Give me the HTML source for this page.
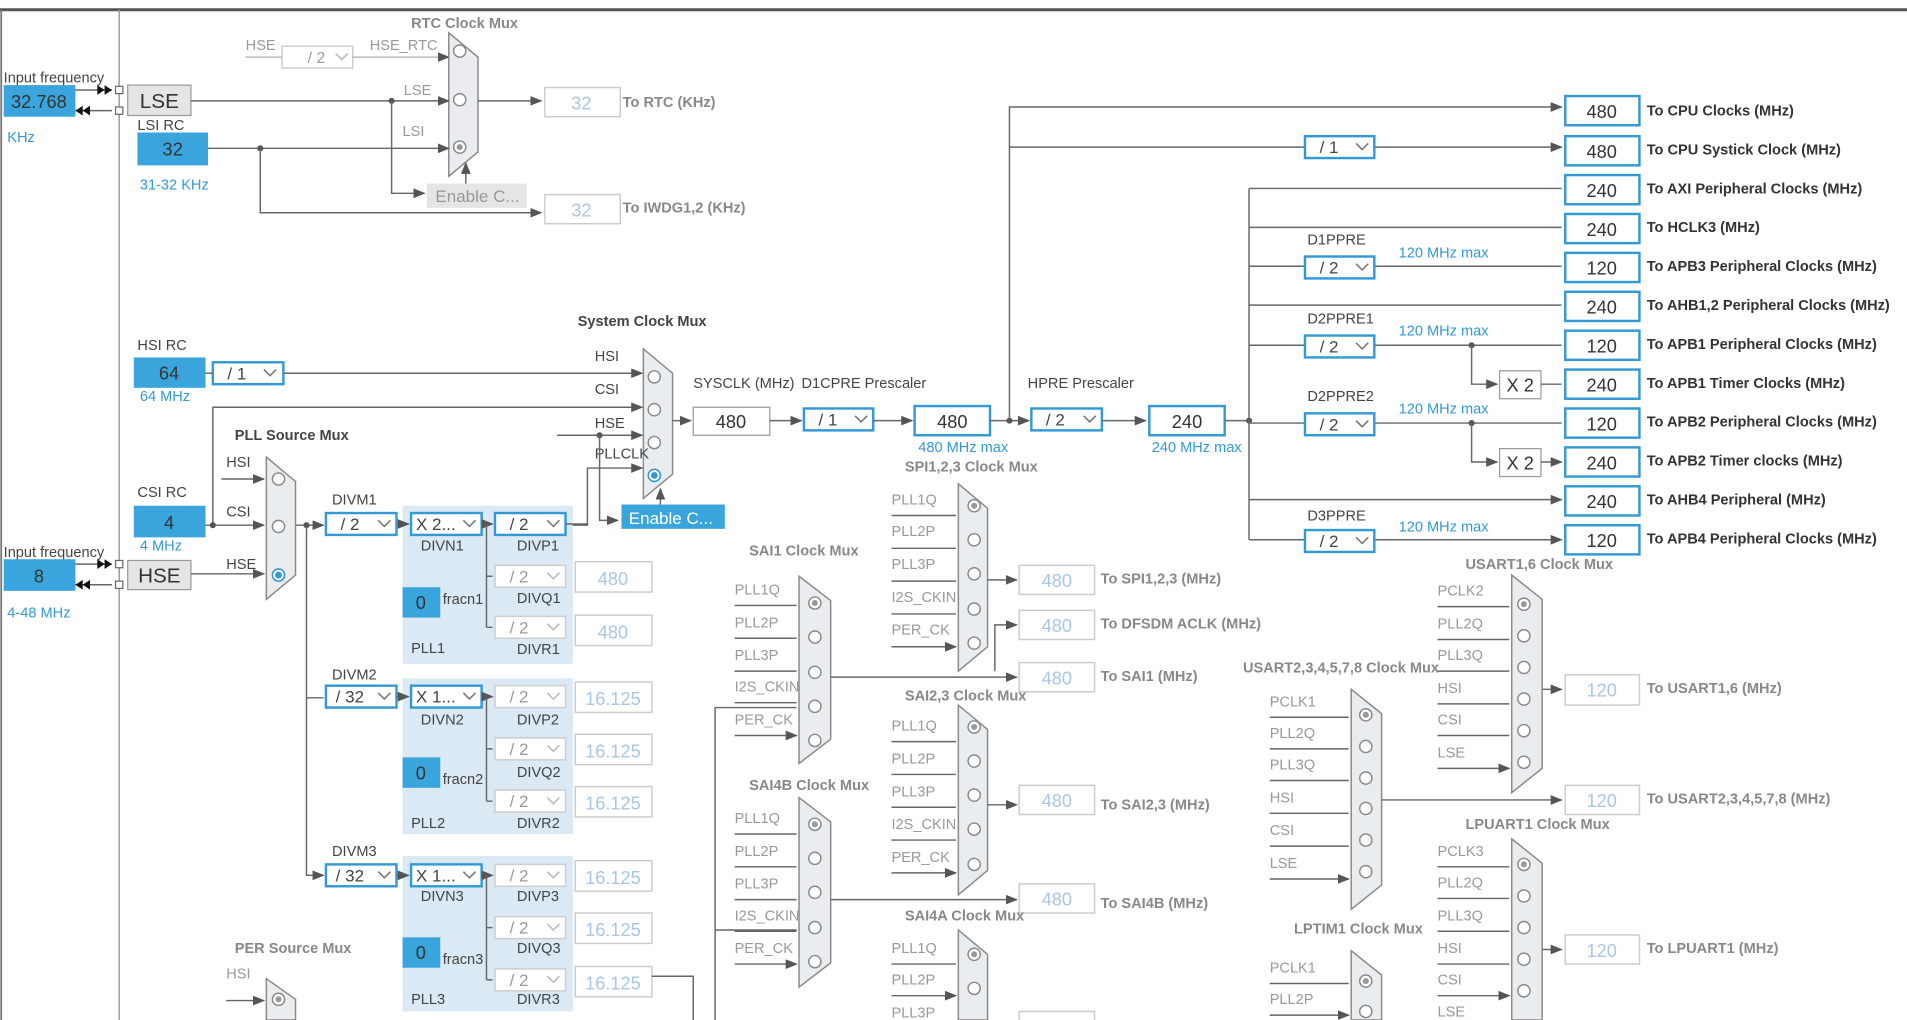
<!DOCTYPE html>
<html><head><meta charset="utf-8">
<style>
html,body{margin:0;padding:0;background:#fff;overflow:hidden}
svg{display:block}
text{font-family:"Liberation Sans",Arial,sans-serif}
.l{font-size:12px;fill:#444}
.g{font-size:12px;fill:#999}
.b{font-size:12px;fill:#3399d6}
.t{font-size:12px;fill:#333;font-weight:bold}
.tg{font-size:12px;fill:#888;font-weight:bold}
.v{font-size:15px;fill:#333;text-anchor:middle}
.vd{font-size:15px;fill:#a9c6e4;text-anchor:middle}
.ln{stroke:#666;stroke-width:1.2;fill:none}
.ar{stroke:#666;stroke-width:1.2;fill:none;marker-end:url(#a)}
.mux{fill:#e9edf0;stroke:#888;stroke-width:1.2}
.c{fill:#fff;stroke:#888;stroke-width:1.2}
.ob{fill:#fff;stroke:#3399d6;stroke-width:2}
.od{fill:#fff;stroke:#ccc;stroke-width:1.2}
.bl{fill:#3aa5dc}
.pll{fill:#dbe9f5}
.dd{fill:#fff;stroke:#3399d6;stroke-width:2}
.ddd{fill:#fff;stroke:#ccc;stroke-width:1.2}
</style></head><body>
<svg width="1907" height="1020" viewBox="0 0 1568 839" preserveAspectRatio="none" xmlns="http://www.w3.org/2000/svg">
<defs>
<marker id="a" markerWidth="10" markerHeight="8" refX="9" refY="4" orient="auto" markerUnits="userSpaceOnUse"><path d="M0,0 L10,4 L0,8z" fill="#555"/></marker>
<g id="chev"><polyline points="0,0 5,5 10,0" fill="none" stroke="#777" stroke-width="1.3"/></g>
<g id="chevg"><polyline points="0,0 5,5 10,0" fill="none" stroke="#bbb" stroke-width="1.3"/></g>
</defs>
<!-- borders -->
<line x1="0" y1="8" x2="1568" y2="8" stroke="#555" stroke-width="2.5"/>
<line x1="1" y1="8" x2="1" y2="839" stroke="#777" stroke-width="1.5"/>
<line x1="98" y1="8" x2="98" y2="839" stroke="#999" stroke-width="1.2"/>

<!-- LSE input -->
<text x="3" y="68" class="l">Input frequency</text>
<rect x="3" y="70" width="59" height="26" class="bl"/><text x="32" y="89" class="v">32.768</text>
<text x="6" y="117" class="b">KHz</text>
<path d="M62,74 H92 M62,91 H92" class="ln"/>
<path d="M80,70 l6,4 -6,4z M86,70 l6,4 -6,4z M68,87 l-6,4 6,4z M74,87 l-6,4 6,4z" fill="#111"/>
<rect x="95" y="71" width="6" height="6" fill="#fff" stroke="#666"/><rect x="95" y="88" width="6" height="6" fill="#fff" stroke="#666"/>
<rect x="105" y="70" width="52" height="25" fill="#e4e5e6" stroke="#999"/><text x="131" y="89" class="v" style="font-size:17px">LSE</text>
<text x="113" y="107" class="l">LSI RC</text>
<rect x="113" y="109" width="58" height="27" class="bl"/><text x="142" y="128" class="v">32</text>
<text x="115" y="156" class="b">31-32 KHz</text>
<!-- RTC -->
<text x="338" y="23" class="tg">RTC Clock Mux</text>
<text x="202" y="41" class="g">HSE</text>
<rect x="232" y="38" width="58" height="18" class="ddd"/><text x="253" y="52" class="g" style="font-size:13px">/ 2</text><use href="#chevg" x="276" y="44"/>
<path d="M202,47 H232" class="ln" style="stroke:#bbb"/>
<path d="M290,47 H369" class="ar" style="stroke:#bbb"/>
<text x="304" y="41" class="g">HSE_RTC</text>
<polygon points="369,27 393,47 393,125 369,145" class="mux"/>
<circle cx="378" cy="42" r="5" class="c"/><circle cx="378" cy="82" r="5" class="c"/><circle cx="378" cy="121" r="5" class="c"/><circle cx="378" cy="121" r="2.5" fill="#999"/>
<path d="M157,83 H369" class="ar"/><text x="332" y="78" class="g">LSE</text>
<path d="M171,122 H369" class="ar"/><text x="331" y="112" class="g">LSI</text>
<circle cx="322" cy="83" r="2.5" fill="#555"/><circle cx="214" cy="122" r="2.5" fill="#555"/>
<path d="M322,83 V159 H349" class="ar"/>
<rect x="351" y="151" width="82" height="20" fill="#e4e5e6"/><text x="358" y="166" style="font-size:14px;fill:#999">Enable C...</text>
<path d="M383,151 V134" class="ar"/>
<path d="M393,83 H445" class="ar"/>
<rect x="448" y="72" width="62" height="24" class="od"/><text x="478" y="90" class="vd">32</text><text x="512" y="88" class="tg">To RTC (KHz)</text>
<path d="M214,122 V175 H445" class="ar"/>
<rect x="448" y="160" width="62" height="24" class="od"/><text x="478" y="178" class="vd">32</text><text x="512" y="175" class="tg">To IWDG1,2 (KHz)</text>

<!-- HSI / system mux -->
<text x="113" y="288" class="l">HSI RC</text>
<rect x="110" y="294" width="59" height="25" class="bl"/><text x="139" y="312" class="v">64</text>
<text x="115" y="330" class="b">64 MHz</text>
<rect x="175" y="298" width="58" height="18" class="dd"/><text x="187" y="312" class="l" style="font-size:14px">/ 1</text><use href="#chev" x="217" y="304"/>
<path d="M169,307 H175" class="ln"/>
<path d="M233,307 H528" class="ar"/>
<text x="475" y="268" class="t" style="fill:#444">System Clock Mux</text>
<polygon points="529,287 553,307 553,390 529,410" class="mux"/>
<text x="489" y="297" class="l">HSI</text><text x="489" y="324" class="l">CSI</text><text x="489" y="352" class="l">HSE</text><text x="489" y="377" class="l">PLLCLK</text>
<circle cx="538" cy="310" r="5" class="c"/><circle cx="538" cy="337" r="5" class="c"/><circle cx="538" cy="364" r="5" class="c"/>
<circle cx="538" cy="391" r="5" fill="#fff" stroke="#3399d6" stroke-width="1.3"/><circle cx="538" cy="391" r="2.8" fill="#3399d6"/>
<path d="M175,432 V335 H528" class="ar"/>
<path d="M458,358 H528" class="ar"/><circle cx="493" cy="358" r="2.5" fill="#555"/>
<path d="M493,358 V428 H508" class="ar"/>
<path d="M470,432 H483 V385 H528" class="ar"/>
<rect x="511" y="415" width="85" height="20" fill="#3aa5dc"/><text x="517" y="431" style="font-size:14px;fill:#fff">Enable C...</text>
<path d="M543,415 V402" class="ar"/>
<path d="M553,346 H568" class="ar"/>
<text x="570" y="319" class="l">SYSCLK (MHz)</text>
<rect x="570" y="335" width="63" height="23" fill="#fff" stroke="#999"/><text x="601" y="352" class="v">480</text>
<path d="M633,346 H659" class="ar"/>
<text x="659" y="319" class="l">D1CPRE Prescaler</text>
<rect x="661" y="336" width="57" height="18" class="dd"/><text x="673" y="350" class="l" style="font-size:14px">/ 1</text><use href="#chev" x="703" y="342"/>
<path d="M718,346 H750" class="ar"/>
<rect x="752" y="334" width="62" height="24" class="ob"/><text x="783" y="352" class="v">480</text>
<text x="755" y="372" class="b">480 MHz max</text>
<path d="M814,346 H846" class="ar"/><circle cx="830" cy="346" r="2.5" fill="#555"/>
<text x="845" y="319" class="l">HPRE Prescaler</text>
<rect x="848" y="336" width="58" height="18" class="dd"/><text x="860" y="350" class="l" style="font-size:14px">/ 2</text><use href="#chev" x="891" y="342"/>
<path d="M906,346 H942" class="ar"/>
<rect x="945" y="334" width="62" height="24" class="ob"/><text x="976" y="352" class="v">240</text>
<text x="947" y="372" class="b">240 MHz max</text>
<path d="M1007,346 H1027" class="ln"/><circle cx="1027" cy="346" r="2.5" fill="#555"/>

<!-- right side -->
<path d="M830,346 V88 H1284" class="ar"/>
<path d="M830,121 H1073" class="ln"/><path d="M1130,121 H1284" class="ar"/>
<rect x="1073" y="112" width="57" height="18" class="dd"/><text x="1085" y="126" class="l" style="font-size:14px">/ 1</text><use href="#chev" x="1115" y="118"/>
<path d="M1027,155 V444" class="ln"/>
<path d="M1027,155 H1284 M1027,187 H1284 M1027,251 H1284 M1027,411 H1284" class="ar"/>
<path d="M1027,219 H1073 M1027,284 H1073 M1027,348 H1073 M1027,444 H1073" class="ln"/>
<path d="M1130,219 H1284 M1130,284 H1284 M1130,348 H1284 M1130,444 H1284" class="ar"/>
<rect x="1073" y="211" width="57" height="18" class="dd"/><text x="1085" y="225" class="l" style="font-size:14px">/ 2</text><use href="#chev" x="1115" y="217"/>
<rect x="1073" y="276" width="57" height="18" class="dd"/><text x="1085" y="290" class="l" style="font-size:14px">/ 2</text><use href="#chev" x="1115" y="282"/>
<rect x="1073" y="340" width="57" height="18" class="dd"/><text x="1085" y="354" class="l" style="font-size:14px">/ 2</text><use href="#chev" x="1115" y="346"/>
<rect x="1073" y="436" width="57" height="18" class="dd"/><text x="1085" y="450" class="l" style="font-size:14px">/ 2</text><use href="#chev" x="1115" y="442"/>
<text x="1075" y="201" class="l">D1PPRE</text><text x="1075" y="266" class="l">D2PPRE1</text><text x="1075" y="330" class="l">D2PPRE2</text><text x="1075" y="428" class="l">D3PPRE</text>
<text x="1150" y="212" class="b">120 MHz max</text><text x="1150" y="276" class="b">120 MHz max</text><text x="1150" y="340" class="b">120 MHz max</text><text x="1150" y="437" class="b">120 MHz max</text>
<circle cx="1210" cy="284" r="2.5" fill="#555"/><path d="M1210,284 V316 H1231" class="ar"/>
<circle cx="1210" cy="348" r="2.5" fill="#555"/><path d="M1210,348 V380 H1231" class="ar"/>
<rect x="1233" y="305" width="34" height="23" fill="#fff" stroke="#999"/><text x="1250" y="322" class="v">X 2</text>
<rect x="1233" y="369" width="34" height="23" fill="#fff" stroke="#999"/><text x="1250" y="386" class="v">X 2</text>
<path d="M1267,316 H1284 M1267,380 H1284" class="ar"/>
<g>
<rect x="1287" y="79" width="61" height="24" class="ob"/><text x="1317" y="97" class="v">480</text><text x="1354" y="95" class="t">To CPU Clocks (MHz)</text>
<rect x="1287" y="112" width="61" height="24" class="ob"/><text x="1317" y="130" class="v">480</text><text x="1354" y="127" class="t">To CPU Systick Clock (MHz)</text>
<rect x="1287" y="144" width="61" height="24" class="ob"/><text x="1317" y="162" class="v">240</text><text x="1354" y="159" class="t">To AXI Peripheral Clocks (MHz)</text>
<rect x="1287" y="176" width="61" height="24" class="ob"/><text x="1317" y="194" class="v">240</text><text x="1354" y="191" class="t">To HCLK3 (MHz)</text>
<rect x="1287" y="208" width="61" height="24" class="ob"/><text x="1317" y="226" class="v">120</text><text x="1354" y="223" class="t">To APB3 Peripheral Clocks (MHz)</text>
<rect x="1287" y="240" width="61" height="24" class="ob"/><text x="1317" y="258" class="v">240</text><text x="1354" y="255" class="t">To AHB1,2 Peripheral Clocks (MHz)</text>
<rect x="1287" y="272" width="61" height="24" class="ob"/><text x="1317" y="290" class="v">120</text><text x="1354" y="287" class="t">To APB1 Peripheral Clocks (MHz)</text>
<rect x="1287" y="304" width="61" height="24" class="ob"/><text x="1317" y="322" class="v">240</text><text x="1354" y="319" class="t">To APB1 Timer Clocks (MHz)</text>
<rect x="1287" y="336" width="61" height="24" class="ob"/><text x="1317" y="354" class="v">120</text><text x="1354" y="351" class="t">To APB2 Peripheral Clocks (MHz)</text>
<rect x="1287" y="368" width="61" height="24" class="ob"/><text x="1317" y="386" class="v">240</text><text x="1354" y="383" class="t">To APB2 Timer clocks (MHz)</text>
<rect x="1287" y="400" width="61" height="24" class="ob"/><text x="1317" y="418" class="v">240</text><text x="1354" y="415" class="t">To AHB4 Peripheral (MHz)</text>
<rect x="1287" y="432" width="61" height="24" class="ob"/><text x="1317" y="450" class="v">120</text><text x="1354" y="447" class="t">To APB4 Peripheral Clocks (MHz)</text>
</g>

<!-- CSI, HSE -->
<text x="113" y="409" class="l">CSI RC</text>
<rect x="110" y="416" width="59" height="26" class="bl"/><text x="139" y="435" class="v">4</text>
<text x="115" y="453" class="b">4 MHz</text>
<text x="3" y="458" class="l">Input frequency</text>
<rect x="3" y="460" width="59" height="26" class="bl"/><text x="32" y="479" class="v">8</text>
<text x="6" y="508" class="b">4-48 MHz</text>
<path d="M62,464 H92 M62,481 H92" class="ln"/>
<path d="M80,460 l6,4 -6,4z M86,460 l6,4 -6,4z M68,477 l-6,4 6,4z M74,477 l-6,4 6,4z" fill="#111"/>
<rect x="95" y="461" width="6" height="6" fill="#fff" stroke="#666"/><rect x="95" y="478" width="6" height="6" fill="#fff" stroke="#666"/>
<rect x="105" y="461" width="52" height="24" fill="#e4e5e6" stroke="#999"/><text x="131" y="479" class="v" style="font-size:17px">HSE</text>

<!-- PLL source mux -->
<text x="193" y="362" class="t" style="fill:#444">PLL Source Mux</text>
<polygon points="219,376 243,396 243,473 219,493" class="mux"/>
<text x="186" y="384" class="l">HSI</text><text x="186" y="425" class="l">CSI</text><text x="186" y="468" class="l">HSE</text>
<circle cx="229" cy="394" r="5" class="c"/><circle cx="229" cy="433" r="5" class="c"/>
<circle cx="229" cy="473" r="5" fill="#fff" stroke="#3399d6" stroke-width="1.3"/><circle cx="229" cy="473" r="2.8" fill="#3399d6"/>
<path d="M182,394 H217" class="ar"/><path d="M169,432 H217" class="ar"/><circle cx="175" cy="432" r="2.5" fill="#555"/>
<path d="M157,472 H217" class="ar"/>
<path d="M243,432 H266" class="ar"/><circle cx="252" cy="432" r="2.5" fill="#555"/>
<path d="M252,432 V574 H266 M252,574 V720 H266" class="ar"/>

<!-- PLL1 -->
<text x="273" y="415" class="l">DIVM1</text>
<rect x="331" y="416" width="140" height="130" class="pll"/>
<rect x="268" y="422" width="58" height="18" class="dd"/><text x="280" y="436" class="l" style="font-size:14px">/ 2</text><use href="#chev" x="311" y="428"/>
<path d="M326,431 H336" class="ar"/>
<rect x="338" y="422" width="58" height="18" class="dd"/><text x="342" y="436" class="l" style="font-size:14px">X 2...</text><use href="#chev" x="381" y="428"/>
<path d="M396,431 H405" class="ar"/>
<rect x="407" y="422" width="58" height="18" class="dd"/><text x="419" y="436" class="l" style="font-size:14px">/ 2</text><use href="#chev" x="450" y="428"/>
<path d="M465,431 H483" class="ln"/>
<text x="346" y="453" class="l">DIVN1</text><text x="425" y="453" class="l">DIVP1</text>
<path d="M400,431 V516 M400,474 H405 M400,516 H405" class="ln"/>
<rect x="407" y="465" width="58" height="18" class="ddd"/><text x="419" y="479" class="g" style="font-size:14px">/ 2</text><use href="#chevg" x="450" y="471"/>
<rect x="473" y="462" width="63" height="25" class="od"/><text x="504" y="481" class="vd">480</text>
<text x="425" y="496" class="l">DIVQ1</text>
<rect x="331" y="483" width="31" height="25" class="bl"/><text x="346" y="501" class="v">0</text><text x="364" y="497" class="l">fracn1</text>
<rect x="407" y="507" width="58" height="18" class="ddd"/><text x="419" y="521" class="g" style="font-size:14px">/ 2</text><use href="#chevg" x="450" y="513"/>
<rect x="473" y="506" width="63" height="25" class="od"/><text x="504" y="525" class="vd">480</text>
<text x="425" y="538" class="l">DIVR1</text><text x="338" y="537" class="l">PLL1</text>

<!-- PLL2 -->
<text x="273" y="559" class="l">DIVM2</text>
<rect x="331" y="558" width="140" height="128" class="pll"/>
<rect x="268" y="564" width="58" height="18" class="dd"/><text x="276" y="578" class="l" style="font-size:14px">/ 32</text><use href="#chev" x="311" y="570"/>
<path d="M326,573 H336" class="ar"/>
<rect x="338" y="564" width="58" height="18" class="dd"/><text x="342" y="578" class="l" style="font-size:14px">X 1...</text><use href="#chev" x="381" y="570"/>
<path d="M396,573 H405" class="ar"/>
<path d="M400,573 V659 M400,616 H405 M400,659 H405" class="ln"/>
<rect x="407" y="564" width="58" height="18" class="ddd"/><text x="419" y="578" class="g" style="font-size:14px">/ 2</text><use href="#chevg" x="450" y="570"/>
<rect x="473" y="561" width="63" height="25" class="od"/><text x="504" y="580" class="vd">16.125</text>
<text x="346" y="596" class="l">DIVN2</text><text x="425" y="596" class="l">DIVP2</text>
<rect x="407" y="607" width="58" height="18" class="ddd"/><text x="419" y="621" class="g" style="font-size:14px">/ 2</text><use href="#chevg" x="450" y="613"/>
<rect x="473" y="604" width="63" height="25" class="od"/><text x="504" y="623" class="vd">16.125</text>
<text x="425" y="639" class="l">DIVQ2</text>
<rect x="331" y="623" width="31" height="25" class="bl"/><text x="346" y="641" class="v">0</text><text x="364" y="645" class="l">fracn2</text>
<rect x="407" y="650" width="58" height="18" class="ddd"/><text x="419" y="664" class="g" style="font-size:14px">/ 2</text><use href="#chevg" x="450" y="656"/>
<rect x="473" y="647" width="63" height="25" class="od"/><text x="504" y="666" class="vd">16.125</text>
<text x="425" y="681" class="l">DIVR2</text><text x="338" y="681" class="l">PLL2</text>

<!-- PLL3 -->
<text x="273" y="704" class="l">DIVM3</text>
<rect x="331" y="704" width="140" height="128" class="pll"/>
<rect x="268" y="711" width="58" height="18" class="dd"/><text x="276" y="725" class="l" style="font-size:14px">/ 32</text><use href="#chev" x="311" y="717"/>
<path d="M326,720 H336" class="ar"/>
<rect x="338" y="711" width="58" height="18" class="dd"/><text x="342" y="725" class="l" style="font-size:14px">X 1...</text><use href="#chev" x="381" y="717"/>
<path d="M396,720 H405" class="ar"/>
<path d="M400,720 V806 M400,763 H405 M400,806 H405" class="ln"/>
<rect x="407" y="711" width="58" height="18" class="ddd"/><text x="419" y="725" class="g" style="font-size:14px">/ 2</text><use href="#chevg" x="450" y="717"/>
<rect x="473" y="708" width="63" height="25" class="od"/><text x="504" y="727" class="vd">16.125</text>
<text x="346" y="741" class="l">DIVN3</text><text x="425" y="741" class="l">DIVP3</text>
<rect x="407" y="754" width="58" height="18" class="ddd"/><text x="419" y="768" class="g" style="font-size:14px">/ 2</text><use href="#chevg" x="450" y="760"/>
<rect x="473" y="751" width="63" height="25" class="od"/><text x="504" y="770" class="vd">16.125</text>
<text x="425" y="784" class="l">DIVQ3</text>
<rect x="331" y="771" width="31" height="25" class="bl"/><text x="346" y="789" class="v">0</text><text x="364" y="793" class="l">fracn3</text>
<rect x="407" y="797" width="58" height="18" class="ddd"/><text x="419" y="811" class="g" style="font-size:14px">/ 2</text><use href="#chevg" x="450" y="803"/>
<rect x="473" y="795" width="63" height="25" class="od"/><text x="504" y="814" class="vd">16.125</text>
<path d="M536,803 H570 V839" class="ln"/>
<text x="425" y="826" class="l">DIVR3</text><text x="338" y="826" class="l">PLL3</text>

<!-- PER source -->
<text x="193" y="784" class="tg">PER Source Mux</text>
<text x="186" y="805" class="g">HSI</text>
<path d="M186,823 H217" class="ar"/>
<polygon points="219,805 243,822 243,839 219,839" class="mux"/>
<circle cx="229" cy="822" r="5" class="c"/><circle cx="229" cy="822" r="2.5" fill="#999"/>

<!-- SPI mux -->
<text x="744" y="388" class="tg">SPI1,2,3 Clock Mux</text>
<polygon points="788,398 812,418 812,532 788,552" class="mux"/>
<g class="g"><text x="733" y="415">PLL1Q</text><text x="733" y="441">PLL2P</text><text x="733" y="468">PLL3P</text><text x="733" y="495">I2S_CKIN</text><text x="733" y="522">PER_CK</text></g>
<path d="M733,424 H786 M733,451 H786 M733,478 H786 M733,505 H786 M733,532 H786" class="ar"/>
<circle cx="801" cy="416" r="5" class="c"/><circle cx="801" cy="416" r="2.5" fill="#999"/><circle cx="801" cy="444" r="5" class="c"/><circle cx="801" cy="472" r="5" class="c"/><circle cx="801" cy="501" r="5" class="c"/><circle cx="801" cy="529" r="5" class="c"/>
<path d="M812,477 H836" class="ar"/>
<rect x="838" y="465" width="62" height="24" class="od"/><text x="869" y="483" class="vd">480</text><text x="905" y="480" class="tg">To SPI1,2,3 (MHz)</text>
<path d="M818,552 V514 H836" class="ar"/>
<rect x="838" y="502" width="62" height="24" class="od"/><text x="869" y="520" class="vd">480</text><text x="905" y="517" class="tg">To DFSDM ACLK (MHz)</text>
<rect x="838" y="545" width="62" height="24" class="od"/><text x="869" y="563" class="vd">480</text><text x="905" y="560" class="tg">To SAI1 (MHz)</text>

<!-- SAI1 -->
<text x="616" y="457" class="tg">SAI1 Clock Mux</text>
<polygon points="657,474 683,494 683,608 657,628" class="mux"/>
<g class="g"><text x="604" y="489">PLL1Q</text><text x="604" y="516">PLL2P</text><text x="604" y="543">PLL3P</text><text x="604" y="569">I2S_CKIN</text><text x="604" y="596">PER_CK</text></g>
<path d="M604,498 H655 M604,525 H655 M604,552 H655 M604,578 H655 M604,605 H655" class="ar"/>
<circle cx="670" cy="496" r="5" class="c"/><circle cx="670" cy="496" r="2.5" fill="#999"/><circle cx="670" cy="524" r="5" class="c"/><circle cx="670" cy="553" r="5" class="c"/><circle cx="670" cy="581" r="5" class="c"/><circle cx="670" cy="609" r="5" class="c"/>
<path d="M683,557 H836" class="ar"/>
<path d="M655,582 H588 V839" class="ln"/><path d="M588,765 H655" class="ln"/>

<!-- SAI2,3 -->
<text x="744" y="576" class="tg">SAI2,3 Clock Mux</text>
<polygon points="788,580 812,600 812,716 788,736" class="mux"/>
<g class="g"><text x="733" y="601">PLL1Q</text><text x="733" y="628">PLL2P</text><text x="733" y="655">PLL3P</text><text x="733" y="682">I2S_CKIN</text><text x="733" y="709">PER_CK</text></g>
<path d="M733,610 H786 M733,637 H786 M733,664 H786 M733,691 H786 M733,718 H786" class="ar"/>
<circle cx="801" cy="598" r="5" class="c"/><circle cx="801" cy="598" r="2.5" fill="#999"/><circle cx="801" cy="626" r="5" class="c"/><circle cx="801" cy="654" r="5" class="c"/><circle cx="801" cy="682" r="5" class="c"/><circle cx="801" cy="711" r="5" class="c"/>
<path d="M812,662 H836" class="ar"/>
<rect x="838" y="646" width="62" height="24" class="od"/><text x="869" y="664" class="vd">480</text><text x="905" y="666" class="tg">To SAI2,3 (MHz)</text>

<!-- SAI4B -->
<text x="616" y="650" class="tg">SAI4B Clock Mux</text>
<polygon points="657,656 683,676 683,792 657,812" class="mux"/>
<g class="g"><text x="604" y="677">PLL1Q</text><text x="604" y="704">PLL2P</text><text x="604" y="731">PLL3P</text><text x="604" y="757">I2S_CKIN</text><text x="604" y="784">PER_CK</text></g>
<path d="M604,686 H655 M604,713 H655 M604,740 H655 M604,766 H655 M604,793 H655" class="ar"/>
<circle cx="670" cy="678" r="5" class="c"/><circle cx="670" cy="678" r="2.5" fill="#999"/><circle cx="670" cy="706" r="5" class="c"/><circle cx="670" cy="734" r="5" class="c"/><circle cx="670" cy="763" r="5" class="c"/><circle cx="670" cy="791" r="5" class="c"/>
<path d="M683,740 H836" class="ar"/>
<rect x="838" y="727" width="62" height="24" class="od"/><text x="869" y="745" class="vd">480</text><text x="905" y="747" class="tg">To SAI4B (MHz)</text>

<!-- SAI4A -->
<text x="744" y="757" class="tg">SAI4A Clock Mux</text>
<polygon points="788,765 812,785 812,839 788,839" class="mux"/>
<g class="g"><text x="733" y="784">PLL1Q</text><text x="733" y="810">PLL2P</text><text x="733" y="837">PLL3P</text></g>
<path d="M733,793 H786 M733,819 H786" class="ar"/>
<circle cx="801" cy="785" r="5" class="c"/><circle cx="801" cy="785" r="2.5" fill="#999"/><circle cx="801" cy="813" r="5" class="c"/>
<rect x="838" y="832" width="62" height="24" class="od"/>

<!-- USART1,6 -->
<text x="1205" y="468" class="tg">USART1,6 Clock Mux</text>
<polygon points="1243,473 1268,493 1268,632 1243,652" class="mux"/>
<g class="g"><text x="1182" y="490">PCLK2</text><text x="1182" y="517">PLL2Q</text><text x="1182" y="543">PLL3Q</text><text x="1182" y="570">HSI</text><text x="1182" y="596">CSI</text><text x="1182" y="623">LSE</text></g>
<path d="M1182,499 H1241 M1182,526 H1241 M1182,552 H1241 M1182,579 H1241 M1182,605 H1241 M1182,632 H1241" class="ar"/>
<circle cx="1253" cy="497" r="5" class="c"/><circle cx="1253" cy="497" r="2.5" fill="#999"/><circle cx="1253" cy="523" r="5" class="c"/><circle cx="1253" cy="549" r="5" class="c"/><circle cx="1253" cy="575" r="5" class="c"/><circle cx="1253" cy="601" r="5" class="c"/><circle cx="1253" cy="627" r="5" class="c"/>
<path d="M1268,567 H1284" class="ar"/>
<rect x="1287" y="555" width="61" height="25" class="od"/><text x="1317" y="573" class="vd">120</text><text x="1354" y="570" class="tg">To USART1,6 (MHz)</text>

<!-- USART2.. -->
<text x="1022" y="553" class="tg">USART2,3,4,5,7,8 Clock Mux</text>
<polygon points="1111,567 1136,587 1136,728 1111,748" class="mux"/>
<g class="g"><text x="1044" y="581">PCLK1</text><text x="1044" y="607">PLL2Q</text><text x="1044" y="633">PLL3Q</text><text x="1044" y="660">HSI</text><text x="1044" y="687">CSI</text><text x="1044" y="714">LSE</text></g>
<path d="M1044,590 H1109 M1044,616 H1109 M1044,642 H1109 M1044,669 H1109 M1044,696 H1109 M1044,723 H1109" class="ar"/>
<circle cx="1123" cy="588" r="5" class="c"/><circle cx="1123" cy="588" r="2.5" fill="#999"/><circle cx="1123" cy="614" r="5" class="c"/><circle cx="1123" cy="640" r="5" class="c"/><circle cx="1123" cy="665" r="5" class="c"/><circle cx="1123" cy="691" r="5" class="c"/><circle cx="1123" cy="717" r="5" class="c"/>
<path d="M1136,658 H1284" class="ar"/>
<rect x="1287" y="646" width="61" height="24" class="od"/><text x="1317" y="664" class="vd">120</text><text x="1354" y="661" class="tg">To USART2,3,4,5,7,8 (MHz)</text>

<!-- LPUART1 -->
<text x="1205" y="682" class="tg">LPUART1 Clock Mux</text>
<polygon points="1243,690 1268,710 1268,839 1243,839" class="mux"/>
<g class="g"><text x="1182" y="704">PCLK3</text><text x="1182" y="730">PLL2Q</text><text x="1182" y="757">PLL3Q</text><text x="1182" y="784">HSI</text><text x="1182" y="810">CSI</text><text x="1182" y="836">LSE</text></g>
<path d="M1182,713 H1241 M1182,739 H1241 M1182,766 H1241 M1182,793 H1241 M1182,819 H1241" class="ar"/>
<circle cx="1253" cy="711" r="5" class="c"/><circle cx="1253" cy="711" r="2.5" fill="#999"/><circle cx="1253" cy="737" r="5" class="c"/><circle cx="1253" cy="763" r="5" class="c"/><circle cx="1253" cy="789" r="5" class="c"/><circle cx="1253" cy="815" r="5" class="c"/>
<path d="M1268,781 H1284" class="ar"/>
<rect x="1287" y="769" width="61" height="24" class="od"/><text x="1317" y="787" class="vd">120</text><text x="1354" y="784" class="tg">To LPUART1 (MHz)</text>

<!-- LPTIM1 -->
<text x="1064" y="768" class="tg">LPTIM1 Clock Mux</text>
<polygon points="1111,782 1136,802 1136,839 1111,839" class="mux"/>
<g class="g"><text x="1044" y="800">PCLK1</text><text x="1044" y="826">PLL2P</text></g>
<path d="M1044,809 H1109 M1044,835 H1109" class="ar"/>
<circle cx="1123" cy="807" r="5" class="c"/><circle cx="1123" cy="807" r="2.5" fill="#999"/><circle cx="1123" cy="832" r="5" class="c"/>
</svg>
</body></html>
